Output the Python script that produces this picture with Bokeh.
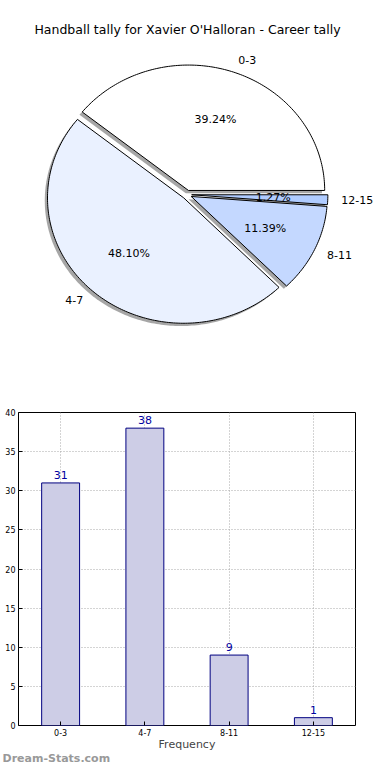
import numpy as np
from bokeh.plotting import figure
from bokeh.models import Range1d, Label, FactorRange, FixedTicker, Title
from bokeh.embed import file_html
from bokeh.resources import INLINE
from bokeh.core.properties import value

# ---------------- data ----------------
title_text = "Handball tally for Xavier O'Halloran - Career tally"
categories = ["0-3", "4-7", "8-11", "12-15"]
counts = [31, 38, 9, 1]
slice_colors = ["#ffffff", "#eaf1ff", "#c4d8ff", "#b0ccff"]
y_ticks = [0, 5, 10, 15, 20, 25, 30, 35, 40]
x_axis_label = "Frequency"
watermark = "Dream-Stats.com"

FONT = value("DejaVu Sans")

# ---------------- pie geometry (unit circle, made elliptical by the scales) ----------------
explode = 0.035
shadow_dx, shadow_dy = -0.02, -0.022
total = float(sum(counts))
fracs = np.array(counts) / total
bounds = np.concatenate([[0.0], np.cumsum(fracs)]) * 2 * np.pi

wx, wy, sx, sy = [], [], [], []
lab_x, lab_y, lab_align, pct_x, pct_y, pct_txt = [], [], [], [], [], []
for i in range(len(counts)):
    a0, a1 = bounds[i], bounds[i + 1]
    mid = 0.5 * (a0 + a1)
    ox, oy = explode * np.cos(mid), explode * np.sin(mid)
    n = max(int(np.degrees(a1 - a0)) + 2, 3)
    t = np.linspace(a0, a1, n)
    px = np.concatenate([[ox], ox + np.cos(t), [ox]])
    py = np.concatenate([[oy], oy + np.sin(t), [oy]])
    wx.append(px.tolist()); wy.append(py.tolist())
    sx.append((px + shadow_dx).tolist()); sy.append((py + shadow_dy).tolist())
    lx = 1.1 * np.cos(mid) + ox
    ly = 1.1 * np.sin(mid) + oy
    lab_x.append(lx); lab_y.append(ly)
    lab_align.append("left" if lx > 0 else "right")
    pct_x.append(0.6 * np.cos(mid) + ox); pct_y.append(0.6 * np.sin(mid) + oy)
    pct_txt.append("%.2f%%" % (100.0 * fracs[i]))

# ---------------- layout constants (pixels) ----------------
W = 374
H1, H2 = 390, 374

# pie: frame covers the whole canvas
cx, cy = 186.4, 194.1           # centre (from left, from top)
rx, ry = 136.2, 125.4           # radii
p1 = figure(width=W, height=H1,
            x_range=Range1d(-cx / rx, (W - cx) / rx),
            y_range=Range1d(-(H1 - cy) / ry, cy / ry),
            x_axis_location=None, y_axis_location=None,
            output_backend="svg", toolbar_location=None,
            min_border=0, min_border_left=0, min_border_right=0,
            min_border_top=0, min_border_bottom=0)
p1.grid.visible = False
p1.outline_line_color = None
p1.background_fill_color = "white"
p1.border_fill_color = "white"

p1.patches(xs=sx, ys=sy, fill_color="#4d4d4d", fill_alpha=0.5, line_color=None)
p1.patches(xs=wx, ys=wy, fill_color=slice_colors, line_color="black", line_width=1)

for i in range(len(categories)):
    p1.add_layout(Label(x=lab_x[i], y=lab_y[i], text=categories[i],
                        text_align=lab_align[i], text_baseline="middle",
                        text_font="DejaVu Sans", text_font_size="11px",
                        text_color="black"))
    p1.add_layout(Label(x=pct_x[i], y=pct_y[i], text=pct_txt[i],
                        text_align="center", text_baseline="middle",
                        text_font="DejaVu Sans", text_font_size="11px",
                        text_color="black"))

p1.add_layout(Label(x=187, y=H1 - 29.4, x_units="screen", y_units="screen",
                    text=title_text, text_align="center", text_baseline="middle",
                    text_font="DejaVu Sans", text_font_size="12.5px", text_color="black"))

# ---------------- bar chart ----------------
BL, BR = 18, 19
p2 = figure(width=W, height=H2, x_range=FactorRange(*categories),
            y_range=Range1d(0, 40),
            output_backend="svg", toolbar_location=None,
            min_border_left=BL, min_border_right=BR,
            min_border_top=22, min_border_bottom=39)
p2.vbar(x=categories, top=counts, width=0.45, fill_color="#cdcde6",
        line_color="#000080", line_width=1)
p2.text(x=categories, y=counts, text=[str(c) for c in counts],
        text_align="center", text_baseline="middle", y_offset=-8,
        text_font=FONT, text_font_size="11px", text_color="#0000a0")

p2.outline_line_color = "black"
p2.outline_line_width = 1
p2.background_fill_color = "white"
p2.border_fill_color = "white"
p2.yaxis.ticker = FixedTicker(ticks=y_ticks)
for ax in (p2.xaxis[0], p2.yaxis[0]):
    ax.axis_line_color = None
    ax.major_tick_in = 4
    ax.major_tick_out = 0
    ax.minor_tick_line_color = None
    ax.major_tick_line_color = "black"
    ax.major_label_text_font = "DejaVu Sans"
    ax.major_label_text_font_size = "8px"
    ax.major_label_text_color = "black"
p2.yaxis.major_label_standoff = 3
p2.xaxis.major_label_standoff = 3
p2.xaxis.axis_label = x_axis_label
p2.xaxis.axis_label_text_font = "DejaVu Sans"
p2.xaxis.axis_label_text_font_size = "11px"
p2.xaxis.axis_label_text_font_style = "normal"
p2.xaxis.axis_label_standoff = -1
p2.grid.grid_line_color = "#a8a8a8"
p2.grid.grid_line_dash = "1 2"
p2.grid.grid_line_width = 1

p2.add_layout(Title(text=watermark, align="left", offset=-BL + 2, standoff=-6,
                    vertical_align="middle",
                    text_font="DejaVu Sans", text_font_size="11px",
                    text_font_style="bold", text_color="#999999"), "below")

open("out.html", "w").write(file_html([p1, p2], INLINE))
